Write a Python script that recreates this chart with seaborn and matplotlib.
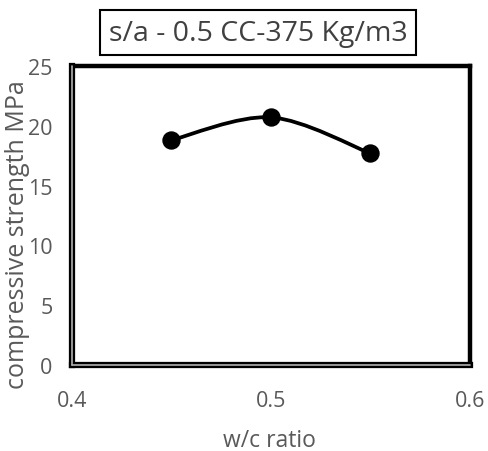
import numpy as np
import pandas as pd
import seaborn as sns
import matplotlib
matplotlib.use("Agg")
import matplotlib.pyplot as plt
from matplotlib.path import Path
from matplotlib.patches import PathPatch

wc_ratio = [0.45, 0.50, 0.55]
strength = [18.8, 20.7, 17.7]
x_ticks = [0.4, 0.5, 0.6]
y_ticks = [0, 5, 10, 15, 20, 25]
title = "s/a - 0.5 CC-375 Kg/m3"
xlabel = "w/c ratio"
ylabel = "compressive strength MPa"

sns.set_theme(style="white")
plt.rcParams['font.family'] = ['Open Sans', 'DejaVu Sans']

df = pd.DataFrame({"wc": wc_ratio, "fc": strength})

fig = plt.figure(figsize=(4.88, 4.52), dpi=100)
ax = fig.add_axes([0.1475, 0.19, 0.815, 0.662])

# Excel-style smoothed line via cubic Bezier segments
pts = np.column_stack([df["wc"], df["fc"]])
verts = [tuple(pts[0])]
codes = [Path.MOVETO]
n = len(pts)
for i in range(n - 1):
    p0 = pts[i - 1] if i > 0 else pts[i]
    p1 = pts[i]
    p2 = pts[i + 1]
    p3 = pts[i + 2] if i + 2 < n else pts[i + 1]
    c1 = p1 + (p2 - p0) / 6.0
    c2 = p2 - (p3 - p1) / 6.0
    verts += [tuple(c1), tuple(c2), tuple(p2)]
    codes += [Path.CURVE4] * 3
ax.add_patch(PathPatch(Path(verts, codes), facecolor="none", edgecolor="black", lw=2.7, zorder=2))

sns.scatterplot(data=df, x="wc", y="fc", ax=ax, color="black", s=150, edgecolor="black", zorder=3, legend=False)

ax.set_xlim(0.4, 0.6)
ax.set_ylim(0, 25)
ax.set_xticks(x_ticks)
ax.set_xticklabels([f"{v:g}" for v in x_ticks])
ax.set_yticks(y_ticks)
ax.set_yticklabels([str(v) for v in y_ticks])
ax.tick_params(axis="both", length=0, labelsize=15.5, labelcolor="#595959")
ax.tick_params(axis="x", pad=18)
ax.tick_params(axis="y", pad=14)

ax.set_xlabel("")
ax.set_ylabel("")
fig.text(0.553, 0.025, xlabel, ha="center", va="center", fontsize=16.5, color="#595959")
fig.text(0.036, 0.48, ylabel, rotation=90, ha="center", va="center", fontsize=18, color="#595959")

for side in ["top", "right"]:
    ax.spines[side].set_color("black")
    ax.spines[side].set_linewidth(3.2)
for side in ["left", "bottom"]:
    ax.spines[side].set_color("black")
    ax.spines[side].set_linewidth(4.5)
ax.plot([0, 0], [0, 1], transform=ax.transAxes, color="#b0b0b0", lw=1.2, clip_on=False, zorder=5)
ax.plot([0, 1], [0, 0], transform=ax.transAxes, color="#b0b0b0", lw=1.2, clip_on=False, zorder=5)

fig.text(0.529, 0.925, title, ha="center", va="center", fontsize=20.5, color="#404040",
         bbox=dict(boxstyle="square,pad=0.3", facecolor="white", edgecolor="black", lw=1.5))

fig.savefig("out.png", dpi=100)
